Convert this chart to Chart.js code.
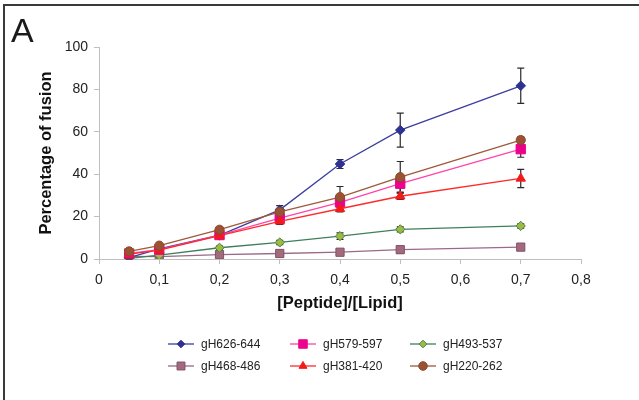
<!DOCTYPE html>
<html><head><meta charset="utf-8">
<script src="https://cdn.jsdelivr.net/npm/chart.js@4.4.1/dist/chart.umd.min.js"></script>
<style>
html,body{margin:0;padding:0;background:#fff;}
#wrap{position:relative;width:639px;height:400px;overflow:hidden;background:#fff;}
canvas{position:absolute;left:0;top:0;}
#frame{position:absolute;left:3px;top:4px;width:650px;height:420px;border-left:2px solid #3a3a3a;border-top:2px solid #3a3a3a;pointer-events:none;}
#lbl{position:absolute;left:11px;top:10px;font:34px "Liberation Sans",Arial,sans-serif;color:#1a1a1a;line-height:40px;}
</style></head><body>
<div id="wrap"><canvas id="c" width="639" height="400"></canvas><div id="frame"></div><div id="lbl">A</div></div>
<script>
// ---- data ----
const xValues = [0.05, 0.1, 0.2, 0.3, 0.4, 0.5, 0.7];
const seriesNames = ['gH626-644', 'gH579-597', 'gH493-537', 'gH468-486', 'gH381-420', 'gH220-262'];
const gH626_644 = [0.6, 4.8, 11.2, 23.2, 44.8, 60.8, 81.7];
const gH579_597 = [2.6, 4.4, 11.3, 19.3, 26.7, 35.5, 51.8];
const gH493_537 = [0.3, 1.8, 5.3, 7.8, 10.8, 14.0, 15.6];
const gH468_486 = [1.2, 1.1, 2.1, 2.6, 3.2, 4.4, 5.6];
const gH381_420 = [2.3, 4.2, 11.0, 17.8, 23.7, 29.6, 38.0];
const gH220_262 = [3.6, 6.3, 13.8, 22.2, 29.2, 38.6, 56.1];
const err626_644 = [0.5, 0.8, 1.0, 2.0, 2.1, 8.0, 8.3];
const err579_597 = [0.5, 0.5, 1.0, 1.5, 2.0, 4.0, 3.8];
const err493_537 = [0.3, 0.5, 0.8, 1.0, 1.5, 1.2, 1.0];
const err468_486 = [0.3, 0.3, 0.5, 0.5, 0.8, 1.5, 1.0];
const err381_420 = [0.5, 0.5, 1.0, 1.5, 1.5, 1.5, 4.3];
const err220_262 = [0.5, 0.5, 1.0, 1.5, 5.0, 7.4, 1.5];
const xTickLabels = ['0', '0,1', '0,2', '0,3', '0,4', '0,5', '0,6', '0,7', '0,8'];
const yTickLabels = ['0', '20', '40', '60', '80', '100'];
const xTitle = '[Peptide]/[Lipid]';
const yTitle = 'Percentage of fusion';

const seriesValues = [gH626_644, gH579_597, gH493_537, gH468_486, gH381_420, gH220_262];
const seriesErrors = [err626_644, err579_597, err493_537, err468_486, err381_420, err220_262];

// ---- styles ----
const styles = [
  {line:'#3B3E9E', fill:'#2E3192', edge:'#2E3192', shape:'rectRot', r:4.8, lr:3.8, order:3},
  {line:'#FF45A8', fill:'#EC008C', edge:'#EC008C', shape:'rect', r:6.6, lr:6.0, order:2},
  {line:'#3F7F5A', fill:'#9BBB45', edge:'#4E7F3F', shape:'rectRot', r:4.6, lr:3.8, order:4},
  {line:'#9A6A86', fill:'#A36A7C', edge:'#80506A', shape:'rect', r:5.8, lr:5.6, order:5},
  {line:'#FF2A2A', fill:'#F21B1B', edge:'#F21B1B', shape:'triangle', r:5.4, lr:4.6, order:1},
  {line:'#A0583A', fill:'#9A5233', edge:'#8A4A2E', shape:'circle', r:4.6, lr:4.3, order:0}
];

Chart.defaults.font.family = '"Liberation Sans", Arial, sans-serif';
Chart.defaults.color = '#222';

const datasets = seriesNames.map((name, i) => ({
  label: name,
  data: xValues.map((x, j) => ({x: x, y: seriesValues[i][j]})),
  errors: seriesErrors[i],
  borderColor: styles[i].line,
  borderWidth: 1.3,
  pointStyle: styles[i].shape,
  pointRadius: styles[i].r,
  pointBackgroundColor: styles[i].fill,
  pointBorderColor: styles[i].edge,
  pointBorderWidth: 1,
  tension: 0,
  fill: false,
  order: styles[i].order
}));

const errorBars = {
  id: 'errorBars',
  beforeDatasetsDraw(chart) {
    const ctx = chart.ctx, ys = chart.scales.y;
    ctx.save();
    ctx.strokeStyle = '#2a2a2a';
    ctx.lineWidth = 1.2;
    chart.data.datasets.forEach((ds, i) => {
      const meta = chart.getDatasetMeta(i);
      meta.data.forEach((pt, j) => {
        const v = ds.data[j].y, e = ds.errors[j];
        const y1 = ys.getPixelForValue(v + e), y2 = ys.getPixelForValue(v - e);
        const x = pt.x;
        ctx.beginPath();
        ctx.moveTo(x, y1); ctx.lineTo(x, y2);
        ctx.moveTo(x - 3.5, y1); ctx.lineTo(x + 3.5, y1);
        ctx.moveTo(x - 3.5, y2); ctx.lineTo(x + 3.5, y2);
        ctx.stroke();
      });
    });
    ctx.restore();
  }
};

const legendCols = [168, 290, 410];
const legendRows = [344, 366];
const customLegend = {
  id: 'customLegend',
  afterDraw(chart) {
    const ctx = chart.ctx;
    ctx.save();
    chart.data.datasets.forEach((ds, i) => {
      const x = legendCols[i % 3], y = legendRows[Math.floor(i / 3)];
      ctx.strokeStyle = ds.borderColor;
      ctx.lineWidth = 1.3;
      ctx.beginPath(); ctx.moveTo(x, y); ctx.lineTo(x + 26, y); ctx.stroke();
      ctx.fillStyle = ds.pointBackgroundColor;
      ctx.strokeStyle = ds.pointBorderColor;
      ctx.lineWidth = 1;
      Chart.helpers.drawPoint(ctx, {pointStyle: ds.pointStyle, radius: styles[i].lr, rotation: 0, borderWidth: 1}, x + 13, y);
      ctx.fillStyle = '#222';
      ctx.font = '12px "Liberation Sans", Arial, sans-serif';
      ctx.textBaseline = 'middle';
      ctx.textAlign = 'left';
      ctx.fillText(ds.label, x + 33, y + 0.5);
    });
    ctx.restore();
  }
};

new Chart(document.getElementById('c'), {
  type: 'line',
  data: {datasets: datasets},
  options: {
    responsive: false,
    animation: false,
    layout: {padding: {left: 33, top: 47, right: 58, bottom: 83}},
    plugins: {legend: {display: false}, tooltip: {enabled: false}},
    scales: {
      x: {
        type: 'linear', min: 0, max: 0.8,
        ticks: {stepSize: 0.1, font: {size: 14}, color: '#222', padding: 8,
          callback: (v, i) => xTickLabels[i]},
        grid: {drawOnChartArea: false, drawTicks: true, tickLength: 5, color: '#BFBFBF'},
        border: {color: '#BFBFBF', width: 1},
        title: {display: true, text: xTitle, font: {size: 16.5, weight: 'bold'}, color: '#111', padding: {top: 4, bottom: 4}},
        afterFit: s => { s.height = 58; }
      },
      y: {
        type: 'linear', min: 0, max: 100,
        ticks: {stepSize: 20, font: {size: 14}, color: '#222', padding: 6,
          callback: (v, i) => yTickLabels[i]},
        grid: {drawOnChartArea: false, drawTicks: true, tickLength: 5, color: '#BFBFBF'},
        border: {color: '#BFBFBF', width: 1},
        title: {display: true, text: yTitle, font: {size: 16.5, weight: 'bold'}, color: '#111', padding: {top: 4, bottom: 4}},
        afterFit: s => { s.width = 66; }
      }
    }
  },
  plugins: [errorBars, customLegend]
});
</script>
</body></html>
